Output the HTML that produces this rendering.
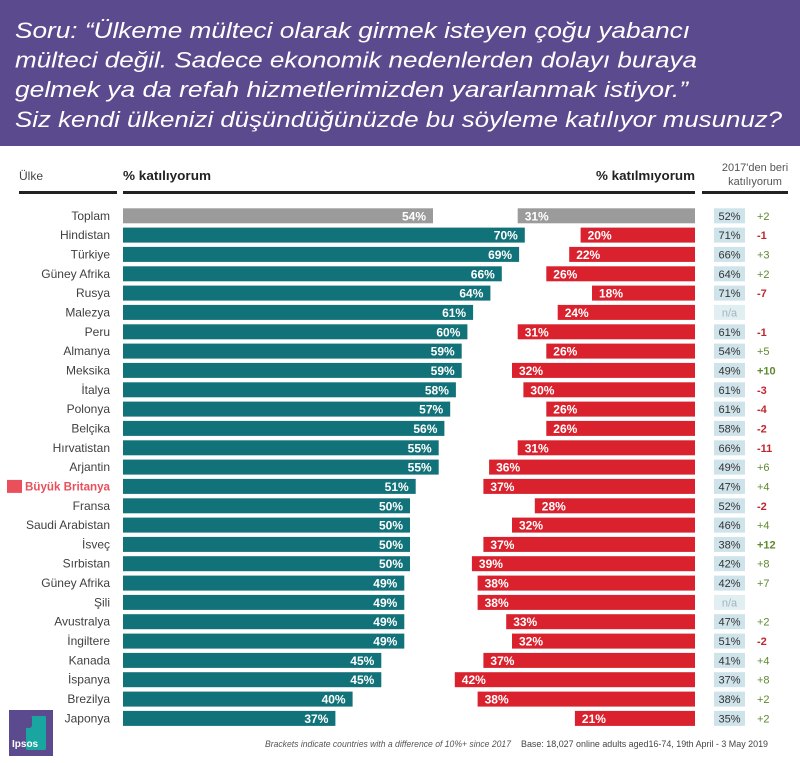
<!DOCTYPE html>
<html>
<head>
<meta charset="utf-8">
<style>
html,body{margin:0;padding:0;background:#fff;}
svg{display:block;}
text{font-family:"Liberation Sans",sans-serif;}
</style>
</head>
<body>
<svg width="800" height="763" viewBox="0 0 800 763" xmlns="http://www.w3.org/2000/svg">
<rect x="0" y="0" width="800" height="763" fill="#fff"/>
<!-- header -->
<rect x="0" y="0" width="800" height="146" fill="#5c4a8e"/>
<g fill="#fff" font-style="italic" font-size="22">
<text x="15" y="38" textLength="675" lengthAdjust="spacingAndGlyphs">Soru: “Ülkeme mülteci olarak girmek isteyen çoğu yabancı</text>
<text x="15" y="67.5" textLength="682" lengthAdjust="spacingAndGlyphs">mülteci değil. Sadece ekonomik nedenlerden dolayı buraya</text>
<text x="15" y="97" textLength="673" lengthAdjust="spacingAndGlyphs">gelmek ya da refah hizmetlerimizden yararlanmak istiyor.”</text>
<text x="15" y="127" textLength="767" lengthAdjust="spacingAndGlyphs">Siz kendi ülkenizi düşündüğünüzde bu söyleme katılıyor musunuz?</text>
</g>
<!-- column headers -->
<text x="19" y="180" font-size="12" fill="#444">Ülke</text>
<text x="123" y="180" font-size="13" fill="#222" font-weight="bold" textLength="88" lengthAdjust="spacingAndGlyphs">% katılıyorum</text>
<text x="695" y="180" font-size="13" fill="#222" font-weight="bold" text-anchor="end" textLength="99" lengthAdjust="spacingAndGlyphs">% katılmıyorum</text>
<text x="755" y="171" font-size="11" fill="#555" text-anchor="middle">2017'den beri</text>
<text x="755" y="185" font-size="11" fill="#555" text-anchor="middle">katılıyorum</text>
<rect x="19" y="191" width="98" height="3" fill="#222"/>
<rect x="123" y="191" width="572" height="3" fill="#222"/>
<rect x="702" y="191" width="86" height="3" fill="#222"/>

<!-- rows -->
<g font-size="12">
<!-- 0 Toplam -->
<g transform="translate(0,208.3)">
<text x="110" y="11.5" text-anchor="end" fill="#404040">Toplam</text>
<rect x="123" y="0" width="310" height="15" fill="#9b9b9b"/>
<text x="426" y="12" text-anchor="end" fill="#fff" font-weight="bold">54%</text>
<rect x="517.7" y="0" width="177.3" height="15" fill="#9b9b9b"/>
<text x="524.7" y="12" fill="#fff" font-weight="bold">31%</text>
<rect x="714" y="0" width="31" height="15" fill="#cfe3ea"/>
<text x="729.5" y="11.5" font-size="11" text-anchor="middle" fill="#333">52%</text>
<text x="757" y="11.5" font-size="11" fill="#5e8a2e">+2</text>
</g>
<!-- 1 Hindistan -->
<g transform="translate(0,227.6)">
<text x="110" y="11.5" text-anchor="end" fill="#404040">Hindistan</text>
<rect x="123" y="0" width="401.8" height="15" fill="#127279"/>
<text x="517.8" y="12" text-anchor="end" fill="#fff" font-weight="bold">70%</text>
<rect x="580.6" y="0" width="114.4" height="15" fill="#d9222e"/>
<text x="587.6" y="12" fill="#fff" font-weight="bold">20%</text>
<rect x="714" y="0" width="31" height="15" fill="#cfe3ea"/>
<text x="729.5" y="11.5" font-size="11" text-anchor="middle" fill="#333">71%</text>
<text x="757" y="11.5" font-size="11" fill="#c0262d" font-weight="bold">-1</text>
</g>
<!-- 2 Türkiye -->
<g transform="translate(0,246.9)">
<text x="110" y="11.5" text-anchor="end" fill="#404040">Türkiye</text>
<rect x="123" y="0" width="396.1" height="15" fill="#127279"/>
<text x="512.1" y="12" text-anchor="end" fill="#fff" font-weight="bold">69%</text>
<rect x="569.2" y="0" width="125.8" height="15" fill="#d9222e"/>
<text x="576.2" y="12" fill="#fff" font-weight="bold">22%</text>
<rect x="714" y="0" width="31" height="15" fill="#cfe3ea"/>
<text x="729.5" y="11.5" font-size="11" text-anchor="middle" fill="#333">66%</text>
<text x="757" y="11.5" font-size="11" fill="#5e8a2e">+3</text>
</g>
<!-- 3 Güney Afrika -->
<g transform="translate(0,266.3)">
<text x="110" y="11.5" text-anchor="end" fill="#404040">Güney Afrika</text>
<rect x="123" y="0" width="378.8" height="15" fill="#127279"/>
<text x="494.8" y="12" text-anchor="end" fill="#fff" font-weight="bold">66%</text>
<rect x="546.3" y="0" width="148.7" height="15" fill="#d9222e"/>
<text x="553.3" y="12" fill="#fff" font-weight="bold">26%</text>
<rect x="714" y="0" width="31" height="15" fill="#cfe3ea"/>
<text x="729.5" y="11.5" font-size="11" text-anchor="middle" fill="#333">64%</text>
<text x="757" y="11.5" font-size="11" fill="#5e8a2e">+2</text>
</g>
<!-- 4 Rusya -->
<g transform="translate(0,285.6)">
<text x="110" y="11.5" text-anchor="end" fill="#404040">Rusya</text>
<rect x="123" y="0" width="367.4" height="15" fill="#127279"/>
<text x="483.4" y="12" text-anchor="end" fill="#fff" font-weight="bold">64%</text>
<rect x="592" y="0" width="103" height="15" fill="#d9222e"/>
<text x="599" y="12" fill="#fff" font-weight="bold">18%</text>
<rect x="714" y="0" width="31" height="15" fill="#cfe3ea"/>
<text x="729.5" y="11.5" font-size="11" text-anchor="middle" fill="#333">71%</text>
<text x="757" y="11.5" font-size="11" fill="#c0262d" font-weight="bold">-7</text>
</g>
<!-- 5 Malezya -->
<g transform="translate(0,304.9)">
<text x="110" y="11.5" text-anchor="end" fill="#404040">Malezya</text>
<rect x="123" y="0" width="350.1" height="15" fill="#127279"/>
<text x="466.1" y="12" text-anchor="end" fill="#fff" font-weight="bold">61%</text>
<rect x="557.7" y="0" width="137.3" height="15" fill="#d9222e"/>
<text x="564.7" y="12" fill="#fff" font-weight="bold">24%</text>
<rect x="714" y="0" width="31" height="15" fill="#e1eef2"/>
<text x="729.5" y="11.5" font-size="11" text-anchor="middle" fill="#9fb5bf">n/a</text>
</g>
<!-- 6 Peru -->
<g transform="translate(0,324.3)">
<text x="110" y="11.5" text-anchor="end" fill="#404040">Peru</text>
<rect x="123" y="0" width="344.4" height="15" fill="#127279"/>
<text x="460.4" y="12" text-anchor="end" fill="#fff" font-weight="bold">60%</text>
<rect x="517.7" y="0" width="177.3" height="15" fill="#d9222e"/>
<text x="524.7" y="12" fill="#fff" font-weight="bold">31%</text>
<rect x="714" y="0" width="31" height="15" fill="#cfe3ea"/>
<text x="729.5" y="11.5" font-size="11" text-anchor="middle" fill="#333">61%</text>
<text x="757" y="11.5" font-size="11" fill="#c0262d" font-weight="bold">-1</text>
</g>
<!-- 7 Almanya -->
<g transform="translate(0,343.6)">
<text x="110" y="11.5" text-anchor="end" fill="#404040">Almanya</text>
<rect x="123" y="0" width="338.7" height="15" fill="#127279"/>
<text x="454.7" y="12" text-anchor="end" fill="#fff" font-weight="bold">59%</text>
<rect x="546.3" y="0" width="148.7" height="15" fill="#d9222e"/>
<text x="553.3" y="12" fill="#fff" font-weight="bold">26%</text>
<rect x="714" y="0" width="31" height="15" fill="#cfe3ea"/>
<text x="729.5" y="11.5" font-size="11" text-anchor="middle" fill="#333">54%</text>
<text x="757" y="11.5" font-size="11" fill="#5e8a2e">+5</text>
</g>
<!-- 8 Meksika -->
<g transform="translate(0,362.9)">
<text x="110" y="11.5" text-anchor="end" fill="#404040">Meksika</text>
<rect x="123" y="0" width="338.7" height="15" fill="#127279"/>
<text x="454.7" y="12" text-anchor="end" fill="#fff" font-weight="bold">59%</text>
<rect x="512" y="0" width="183" height="15" fill="#d9222e"/>
<text x="519" y="12" fill="#fff" font-weight="bold">32%</text>
<rect x="714" y="0" width="31" height="15" fill="#cfe3ea"/>
<text x="729.5" y="11.5" font-size="11" text-anchor="middle" fill="#333">49%</text>
<text x="757" y="11.5" font-size="11" fill="#5e8a2e" font-weight="bold">+10</text>
</g>
<!-- 9 İtalya -->
<g transform="translate(0,382.3)">
<text x="110" y="11.5" text-anchor="end" fill="#404040">İtalya</text>
<rect x="123" y="0" width="332.9" height="15" fill="#127279"/>
<text x="448.9" y="12" text-anchor="end" fill="#fff" font-weight="bold">58%</text>
<rect x="523.4" y="0" width="171.6" height="15" fill="#d9222e"/>
<text x="530.4" y="12" fill="#fff" font-weight="bold">30%</text>
<rect x="714" y="0" width="31" height="15" fill="#cfe3ea"/>
<text x="729.5" y="11.5" font-size="11" text-anchor="middle" fill="#333">61%</text>
<text x="757" y="11.5" font-size="11" fill="#c0262d" font-weight="bold">-3</text>
</g>
<!-- 10 Polonya -->
<g transform="translate(0,401.6)">
<text x="110" y="11.5" text-anchor="end" fill="#404040">Polonya</text>
<rect x="123" y="0" width="327.2" height="15" fill="#127279"/>
<text x="443.2" y="12" text-anchor="end" fill="#fff" font-weight="bold">57%</text>
<rect x="546.3" y="0" width="148.7" height="15" fill="#d9222e"/>
<text x="553.3" y="12" fill="#fff" font-weight="bold">26%</text>
<rect x="714" y="0" width="31" height="15" fill="#cfe3ea"/>
<text x="729.5" y="11.5" font-size="11" text-anchor="middle" fill="#333">61%</text>
<text x="757" y="11.5" font-size="11" fill="#c0262d" font-weight="bold">-4</text>
</g>
<!-- 11 Belçika -->
<g transform="translate(0,420.9)">
<text x="110" y="11.5" text-anchor="end" fill="#404040">Belçika</text>
<rect x="123" y="0" width="321.4" height="15" fill="#127279"/>
<text x="437.4" y="12" text-anchor="end" fill="#fff" font-weight="bold">56%</text>
<rect x="546.3" y="0" width="148.7" height="15" fill="#d9222e"/>
<text x="553.3" y="12" fill="#fff" font-weight="bold">26%</text>
<rect x="714" y="0" width="31" height="15" fill="#cfe3ea"/>
<text x="729.5" y="11.5" font-size="11" text-anchor="middle" fill="#333">58%</text>
<text x="757" y="11.5" font-size="11" fill="#c0262d" font-weight="bold">-2</text>
</g>
<!-- 12 Hırvatistan -->
<g transform="translate(0,440.3)">
<text x="110" y="11.5" text-anchor="end" fill="#404040">Hırvatistan</text>
<rect x="123" y="0" width="315.7" height="15" fill="#127279"/>
<text x="431.7" y="12" text-anchor="end" fill="#fff" font-weight="bold">55%</text>
<rect x="517.7" y="0" width="177.3" height="15" fill="#d9222e"/>
<text x="524.7" y="12" fill="#fff" font-weight="bold">31%</text>
<rect x="714" y="0" width="31" height="15" fill="#cfe3ea"/>
<text x="729.5" y="11.5" font-size="11" text-anchor="middle" fill="#333">66%</text>
<text x="757" y="11.5" font-size="11" fill="#c0262d" font-weight="bold">-11</text>
</g>
<!-- 13 Arjantin -->
<g transform="translate(0,459.6)">
<text x="110" y="11.5" text-anchor="end" fill="#404040">Arjantin</text>
<rect x="123" y="0" width="315.7" height="15" fill="#127279"/>
<text x="431.7" y="12" text-anchor="end" fill="#fff" font-weight="bold">55%</text>
<rect x="489.1" y="0" width="205.9" height="15" fill="#d9222e"/>
<text x="496.1" y="12" fill="#fff" font-weight="bold">36%</text>
<rect x="714" y="0" width="31" height="15" fill="#cfe3ea"/>
<text x="729.5" y="11.5" font-size="11" text-anchor="middle" fill="#333">49%</text>
<text x="757" y="11.5" font-size="11" fill="#5e8a2e">+6</text>
</g>
<!-- 14 Büyük Britanya -->
<g transform="translate(0,478.9)">
<rect x="7" y="1" width="15" height="13" fill="#e9505b"/>
<text x="25" y="11.5" fill="#e9505b" font-weight="bold" textLength="85" lengthAdjust="spacingAndGlyphs">Büyük Britanya</text>
<rect x="123" y="0" width="292.7" height="15" fill="#127279"/>
<text x="408.7" y="12" text-anchor="end" fill="#fff" font-weight="bold">51%</text>
<rect x="483.4" y="0" width="211.6" height="15" fill="#d9222e"/>
<text x="490.4" y="12" fill="#fff" font-weight="bold">37%</text>
<rect x="714" y="0" width="31" height="15" fill="#cfe3ea"/>
<text x="729.5" y="11.5" font-size="11" text-anchor="middle" fill="#333">47%</text>
<text x="757" y="11.5" font-size="11" fill="#5e8a2e">+4</text>
</g>
<!-- 15 Fransa -->
<g transform="translate(0,498.3)">
<text x="110" y="11.5" text-anchor="end" fill="#404040">Fransa</text>
<rect x="123" y="0" width="287" height="15" fill="#127279"/>
<text x="403" y="12" text-anchor="end" fill="#fff" font-weight="bold">50%</text>
<rect x="534.8" y="0" width="160.2" height="15" fill="#d9222e"/>
<text x="541.8" y="12" fill="#fff" font-weight="bold">28%</text>
<rect x="714" y="0" width="31" height="15" fill="#cfe3ea"/>
<text x="729.5" y="11.5" font-size="11" text-anchor="middle" fill="#333">52%</text>
<text x="757" y="11.5" font-size="11" fill="#c0262d" font-weight="bold">-2</text>
</g>
<!-- 16 Saudi Arabistan -->
<g transform="translate(0,517.6)">
<text x="110" y="11.5" text-anchor="end" fill="#404040">Saudi Arabistan</text>
<rect x="123" y="0" width="287" height="15" fill="#127279"/>
<text x="403" y="12" text-anchor="end" fill="#fff" font-weight="bold">50%</text>
<rect x="512" y="0" width="183" height="15" fill="#d9222e"/>
<text x="519" y="12" fill="#fff" font-weight="bold">32%</text>
<rect x="714" y="0" width="31" height="15" fill="#cfe3ea"/>
<text x="729.5" y="11.5" font-size="11" text-anchor="middle" fill="#333">46%</text>
<text x="757" y="11.5" font-size="11" fill="#5e8a2e">+4</text>
</g>
<!-- 17 İsveç -->
<g transform="translate(0,536.9)">
<text x="110" y="11.5" text-anchor="end" fill="#404040">İsveç</text>
<rect x="123" y="0" width="287" height="15" fill="#127279"/>
<text x="403" y="12" text-anchor="end" fill="#fff" font-weight="bold">50%</text>
<rect x="483.4" y="0" width="211.6" height="15" fill="#d9222e"/>
<text x="490.4" y="12" fill="#fff" font-weight="bold">37%</text>
<rect x="714" y="0" width="31" height="15" fill="#cfe3ea"/>
<text x="729.5" y="11.5" font-size="11" text-anchor="middle" fill="#333">38%</text>
<text x="757" y="11.5" font-size="11" fill="#5e8a2e" font-weight="bold">+12</text>
</g>
<!-- 18 Sırbistan -->
<g transform="translate(0,556.2)">
<text x="110" y="11.5" text-anchor="end" fill="#404040">Sırbistan</text>
<rect x="123" y="0" width="287" height="15" fill="#127279"/>
<text x="403" y="12" text-anchor="end" fill="#fff" font-weight="bold">50%</text>
<rect x="471.9" y="0" width="223.1" height="15" fill="#d9222e"/>
<text x="478.9" y="12" fill="#fff" font-weight="bold">39%</text>
<rect x="714" y="0" width="31" height="15" fill="#cfe3ea"/>
<text x="729.5" y="11.5" font-size="11" text-anchor="middle" fill="#333">42%</text>
<text x="757" y="11.5" font-size="11" fill="#5e8a2e">+8</text>
</g>
<!-- 19 Güney Afrika -->
<g transform="translate(0,575.6)">
<text x="110" y="11.5" text-anchor="end" fill="#404040">Güney Afrika</text>
<rect x="123" y="0" width="281.3" height="15" fill="#127279"/>
<text x="397.3" y="12" text-anchor="end" fill="#fff" font-weight="bold">49%</text>
<rect x="477.6" y="0" width="217.4" height="15" fill="#d9222e"/>
<text x="484.6" y="12" fill="#fff" font-weight="bold">38%</text>
<rect x="714" y="0" width="31" height="15" fill="#cfe3ea"/>
<text x="729.5" y="11.5" font-size="11" text-anchor="middle" fill="#333">42%</text>
<text x="757" y="11.5" font-size="11" fill="#5e8a2e">+7</text>
</g>
<!-- 20 Şili -->
<g transform="translate(0,594.9)">
<text x="110" y="11.5" text-anchor="end" fill="#404040">Şili</text>
<rect x="123" y="0" width="281.3" height="15" fill="#127279"/>
<text x="397.3" y="12" text-anchor="end" fill="#fff" font-weight="bold">49%</text>
<rect x="477.6" y="0" width="217.4" height="15" fill="#d9222e"/>
<text x="484.6" y="12" fill="#fff" font-weight="bold">38%</text>
<rect x="714" y="0" width="31" height="15" fill="#e1eef2"/>
<text x="729.5" y="11.5" font-size="11" text-anchor="middle" fill="#9fb5bf">n/a</text>
</g>
<!-- 21 Avustralya -->
<g transform="translate(0,614.2)">
<text x="110" y="11.5" text-anchor="end" fill="#404040">Avustralya</text>
<rect x="123" y="0" width="281.3" height="15" fill="#127279"/>
<text x="397.3" y="12" text-anchor="end" fill="#fff" font-weight="bold">49%</text>
<rect x="506.2" y="0" width="188.8" height="15" fill="#d9222e"/>
<text x="513.2" y="12" fill="#fff" font-weight="bold">33%</text>
<rect x="714" y="0" width="31" height="15" fill="#cfe3ea"/>
<text x="729.5" y="11.5" font-size="11" text-anchor="middle" fill="#333">47%</text>
<text x="757" y="11.5" font-size="11" fill="#5e8a2e">+2</text>
</g>
<!-- 22 İngiltere -->
<g transform="translate(0,633.6)">
<text x="110" y="11.5" text-anchor="end" fill="#404040">İngiltere</text>
<rect x="123" y="0" width="281.3" height="15" fill="#127279"/>
<text x="397.3" y="12" text-anchor="end" fill="#fff" font-weight="bold">49%</text>
<rect x="512" y="0" width="183" height="15" fill="#d9222e"/>
<text x="519" y="12" fill="#fff" font-weight="bold">32%</text>
<rect x="714" y="0" width="31" height="15" fill="#cfe3ea"/>
<text x="729.5" y="11.5" font-size="11" text-anchor="middle" fill="#333">51%</text>
<text x="757" y="11.5" font-size="11" fill="#c0262d" font-weight="bold">-2</text>
</g>
<!-- 23 Kanada -->
<g transform="translate(0,652.9)">
<text x="110" y="11.5" text-anchor="end" fill="#404040">Kanada</text>
<rect x="123" y="0" width="258.3" height="15" fill="#127279"/>
<text x="374.3" y="12" text-anchor="end" fill="#fff" font-weight="bold">45%</text>
<rect x="483.4" y="0" width="211.6" height="15" fill="#d9222e"/>
<text x="490.4" y="12" fill="#fff" font-weight="bold">37%</text>
<rect x="714" y="0" width="31" height="15" fill="#cfe3ea"/>
<text x="729.5" y="11.5" font-size="11" text-anchor="middle" fill="#333">41%</text>
<text x="757" y="11.5" font-size="11" fill="#5e8a2e">+4</text>
</g>
<!-- 24 İspanya -->
<g transform="translate(0,672.2)">
<text x="110" y="11.5" text-anchor="end" fill="#404040">İspanya</text>
<rect x="123" y="0" width="258.3" height="15" fill="#127279"/>
<text x="374.3" y="12" text-anchor="end" fill="#fff" font-weight="bold">45%</text>
<rect x="454.8" y="0" width="240.2" height="15" fill="#d9222e"/>
<text x="461.8" y="12" fill="#fff" font-weight="bold">42%</text>
<rect x="714" y="0" width="31" height="15" fill="#cfe3ea"/>
<text x="729.5" y="11.5" font-size="11" text-anchor="middle" fill="#333">37%</text>
<text x="757" y="11.5" font-size="11" fill="#5e8a2e">+8</text>
</g>
<!-- 25 Brezilya -->
<g transform="translate(0,691.6)">
<text x="110" y="11.5" text-anchor="end" fill="#404040">Brezilya</text>
<rect x="123" y="0" width="229.6" height="15" fill="#127279"/>
<text x="345.6" y="12" text-anchor="end" fill="#fff" font-weight="bold">40%</text>
<rect x="477.6" y="0" width="217.4" height="15" fill="#d9222e"/>
<text x="484.6" y="12" fill="#fff" font-weight="bold">38%</text>
<rect x="714" y="0" width="31" height="15" fill="#cfe3ea"/>
<text x="729.5" y="11.5" font-size="11" text-anchor="middle" fill="#333">38%</text>
<text x="757" y="11.5" font-size="11" fill="#5e8a2e">+2</text>
</g>
<!-- 26 Japonya -->
<g transform="translate(0,710.9)">
<text x="110" y="11.5" text-anchor="end" fill="#404040">Japonya</text>
<rect x="123" y="0" width="212.4" height="15" fill="#127279"/>
<text x="328.4" y="12" text-anchor="end" fill="#fff" font-weight="bold">37%</text>
<rect x="574.9" y="0" width="120.1" height="15" fill="#d9222e"/>
<text x="581.9" y="12" fill="#fff" font-weight="bold">21%</text>
<rect x="714" y="0" width="31" height="15" fill="#cfe3ea"/>
<text x="729.5" y="11.5" font-size="11" text-anchor="middle" fill="#333">35%</text>
<text x="757" y="11.5" font-size="11" fill="#5e8a2e">+2</text>
</g>
</g>

<!-- footer -->
<text x="265" y="747" font-size="9" font-style="italic" fill="#555" textLength="246" lengthAdjust="spacingAndGlyphs">Brackets indicate countries with a difference of 10%+ since 2017</text>
<text x="521" y="747" font-size="9" fill="#444" textLength="247" lengthAdjust="spacingAndGlyphs">Base: 18,027 online adults aged16-74, 19th April - 3 May 2019</text>

<!-- Ipsos logo -->
<rect x="9" y="710" width="44" height="46" fill="#5c4a8e"/>
<rect x="26" y="716" width="20" height="34" rx="1.5" fill="#1aa6a0"/>
<rect x="24" y="715" width="8" height="13" rx="3" fill="#5c4a8e"/>
<text x="12" y="747" font-size="10" font-weight="bold" fill="#fff">Ipsos</text>
</svg>
</body>
</html>
